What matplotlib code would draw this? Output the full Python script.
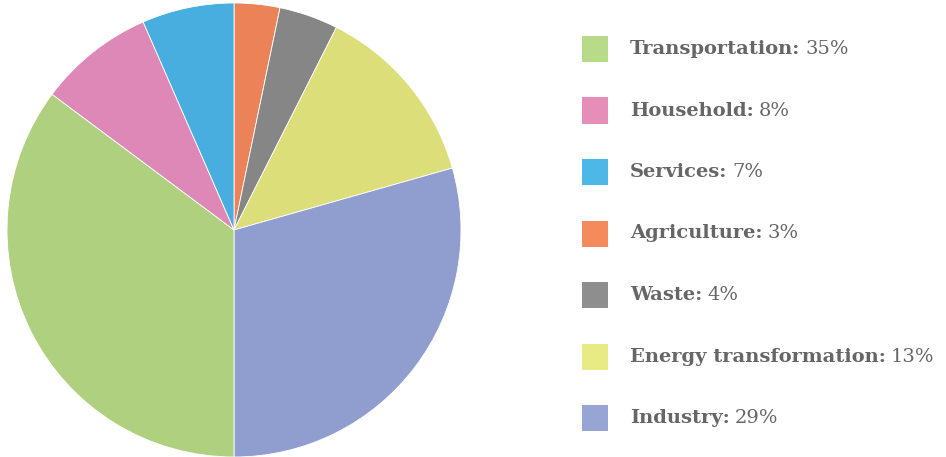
import matplotlib
matplotlib.use("Agg")
import matplotlib.pyplot as plt
from matplotlib.patches import Rectangle

# Data (legend order)
categories = ["Transportation", "Household", "Services", "Agriculture", "Waste",
              "Energy transformation", "Industry"]
percent_labels = [35, 8, 7, 3, 4, 13, 29]
# slice sizes (%)
slice_shares = [35.2, 8.25, 6.55, 3.25, 4.2, 13.15, 29.4]
legend_colors = ["#b8db8a", "#e68db8", "#4db8e8", "#f58a5a", "#8e8e8e", "#e8eb84", "#97a5d4"]
pie_colors = ["#afd17f", "#dd88b6", "#47aedf", "#ec8358", "#868686", "#dcde79", "#8f9dcf"]

# Pie drawing order (clockwise from 12 o'clock)
pie_order = ["Agriculture", "Waste", "Energy transformation", "Industry",
             "Transportation", "Household", "Services"]

W, H = 946, 457
fig = plt.figure(figsize=(W / 100, H / 100), dpi=100)
fig.patch.set_facecolor("white")

cx, cy, r = 234, 230, 227
ax = fig.add_axes([(cx - r) / W, (H - cy - r) / H, 2 * r / W, 2 * r / H])
idx = [categories.index(c) for c in pie_order]
ax.pie([slice_shares[i] for i in idx], colors=[pie_colors[i] for i in idx],
       startangle=90, counterclock=False, radius=1.0,
       wedgeprops=dict(edgecolor="white", linewidth=0.6))
ax.set_xlim(-1, 1)
ax.set_ylim(-1, 1)
ax.set_aspect("equal")
ax.axis("off")

# Legend
text_color = "#666666"
font = "DejaVu Serif"
row_y0 = 49
row_step = 61.5
sq = 26
sq_x = 582
txt_x = 630
renderer = fig.canvas.get_renderer()
for k, (cat, val, col) in enumerate(zip(categories, percent_labels, legend_colors)):
    yc = row_y0 + k * row_step
    fig.add_artist(Rectangle((sq_x / W, (H - yc - sq / 2) / H), sq / W, sq / H,
                             transform=fig.transFigure, facecolor=col, edgecolor="none"))
    t = fig.text(txt_x / W, (H - yc) / H, f"{cat}:", fontsize=14, fontweight="bold",
                 family=font, color=text_color, va="center", ha="left")
    bb = t.get_window_extent(renderer=renderer)
    fig.text((bb.x1 + 5) / W, (H - yc) / H, f"{val}%", fontsize=14,
             family=font, color=text_color, va="center", ha="left")

fig.savefig("out.png", dpi=100, facecolor="white")
